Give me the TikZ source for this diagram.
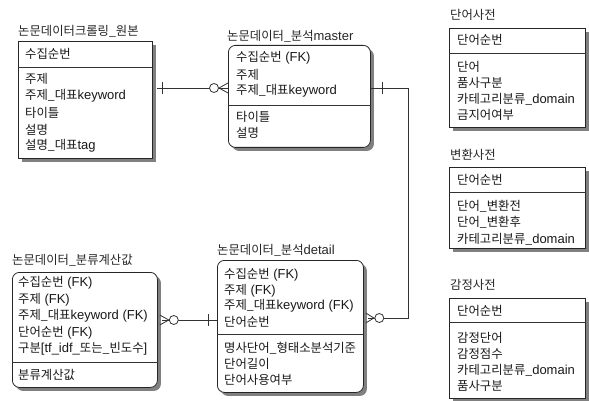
\documentclass[tikz,border=0pt]{standalone}
\usepackage{fontspec}
\setmainfont{Liberation Sans}
\newfontfamily\kr{Noto Sans CJK KR}[Scale=0.95]
\newcommand\K[1]{{\kr #1}}
\usetikzlibrary{shadows}
\tikzset{
  ebox/.style={draw=black!85, line width=0.8pt, fill=white, inner sep=0pt, anchor=north west,
    drop shadow={shadow xshift=3.5pt, shadow yshift=-3.5pt, fill=black!50, opacity=1}},
  rbox/.style={ebox, rounded corners=7pt},
  row/.style={anchor=west, inner sep=0pt, text=black!90},
  ttl/.style={anchor=west, inner sep=0pt, text=black!85},
  conn/.style={draw=black!80, line width=0.8pt},
  circ/.style={conn, fill=white},
}
\begin{document}
\begin{tikzpicture}[x=1pt,y=-1pt, font=\fontsize{13}{14}\selectfont]
\useasboundingbox (0,0) rectangle (589,401);
% ---------- entity boxes ----------
\node[ebox, minimum width=134pt, minimum height=117pt] (orig) at (18,41) {};
\node[rbox, minimum width=142pt, minimum height=102pt] (master) at (228,45) {};
\node[rbox, minimum width=146pt, minimum height=132pt] (detail) at (217,260) {};
\node[rbox, minimum width=145pt, minimum height=115pt] (bunryu) at (12,272) {};
\node[ebox, minimum width=136pt, minimum height=99pt] (dict1) at (449,28) {};
\node[ebox, minimum width=136pt, minimum height=81pt] (dict2) at (449,167) {};
\node[ebox, minimum width=136pt, minimum height=100pt] (dict3) at (449,298) {};
% dividers
\draw[conn] (orig.west |- 0,67) -- (orig.east |- 0,67);
\draw[conn] (master.west |- 0,105) -- (master.east |- 0,105);
\draw[conn] (detail.west |- 0,334) -- (detail.east |- 0,334);
\draw[conn] (bunryu.west |- 0,362) -- (bunryu.east |- 0,362);
\draw[conn] (dict1.west |- 0,53) -- (dict1.east |- 0,53);
\draw[conn] (dict2.west |- 0,192) -- (dict2.east |- 0,192);
\draw[conn] (dict3.west |- 0,322) -- (dict3.east |- 0,322);
% ---------- titles ----------
\node[ttl] (t-orig) at (18,31) {\K{논문데이터크롤링\_원본}};
\node[ttl] (t-master) at (227,36) {\K{논문데이터\_분석}master};
\node[ttl] (t-detail) at (217,250) {\K{논문데이터\_분석}detail};
\node[ttl] (t-bunryu) at (12,260) {\K{논문데이터\_분류계산값}};
\node[ttl] (t-dict1) at (450,15) {\K{단어사전}};
\node[ttl] (t-dict2) at (450,155) {\K{변환사전}};
\node[ttl] (t-dict3) at (450,285) {\K{감정사전}};
% ---------- rows: original ----------
\node[row] (o1) at (25,54) {\K{수집순번}};
\node[row] (o2) at (25,79) {\K{주제}};
\node[row] (o3) at (25,96) {\K{주제\_대표}keyword};
\node[row] (o4) at (25,113) {\K{타이틀}};
\node[row] (o5) at (25,129.5) {\K{설명}};
\node[row] (o6) at (25,146) {\K{설명\_대표}tag};
% ---------- rows: master ----------
\node[row] (m1) at (236,58) {\K{수집순번} (FK)};
\node[row] (m2) at (236,74.5) {\K{주제}};
\node[row] (m3) at (236,91) {\K{주제\_대표}keyword};
\node[row] (m4) at (236,117) {\K{타이틀}};
\node[row] (m5) at (236,133) {\K{설명}};
% ---------- rows: detail ----------
\node[row] (d1) at (224,275) {\K{수집순번} (FK)};
\node[row] (d2) at (224,290.5) {\K{주제} (FK)};
\node[row] (d3) at (224,306) {\K{주제\_대표}keyword (FK)};
\node[row] (d4) at (224,322) {\K{단어순번}};
\node[row] (d5) at (224,348) {\K{명사단어\_형태소분석기준}};
\node[row] (d6) at (224,364) {\K{단어길이}};
\node[row] (d7) at (224,380) {\K{단어사용여부}};
% ---------- rows: bunryu ----------
\node[row] (b1) at (18,283) {\K{수집순번} (FK)};
\node[row] (b2) at (18,300) {\K{주제} (FK)};
\node[row] (b3) at (18,316) {\K{주제\_대표}keyword (FK)};
\node[row] (b4) at (18,333) {\K{단어순번} (FK)};
\node[row] (b5) at (18,349) {\K{구분}[tf\_idf\_\K{또는\_빈도수}]};
\node[row] (b6) at (18,375) {\K{분류계산값}};
% ---------- rows: dictionaries ----------
\node[row] (w1) at (457,40) {\K{단어순번}};
\node[row] (w2) at (457,67) {\K{단어}};
\node[row] (w3) at (457,83) {\K{품사구분}};
\node[row] (w4) at (457,99) {\K{카테고리분류\_}domain};
\node[row] (w5) at (457,115) {\K{금지어여부}};
\node[row] (v1) at (457,180) {\K{단어순번}};
\node[row] (v2) at (457,206.5) {\K{단어\_변환전}};
\node[row] (v3) at (457,222) {\K{단어\_변환후}};
\node[row] (v4) at (457,239) {\K{카테고리분류\_}domain};
\node[row] (e1) at (457,311) {\K{단어순번}};
\node[row] (e2) at (457,338) {\K{감정단어}};
\node[row] (e3) at (457,354) {\K{감정점수}};
\node[row] (e4) at (457,370) {\K{카테고리분류\_}domain};
\node[row] (e5) at (457,386) {\K{품사구분}};
% ---------- connector: original -> master ----------
\coordinate (c1a) at (orig.east |- 0,88);
\coordinate (c1b) at (master.west |- 0,88);
\draw[conn] ([xshift=4pt]c1a) -- (c1b);
\draw[conn] ([xshift=10pt]c1a) +(0,-6) -- +(0,6);
\draw[conn] ([yshift=5pt]c1b) -- ([xshift=-9pt]c1b) -- ([yshift=-5pt]c1b);
\draw[circ] ([xshift=-14pt]c1b) circle (4.5pt);
% ---------- connector: master -> detail ----------
\coordinate (c2a) at (master.east |- 0,88);
\coordinate (c2b) at (detail.east |- 0,318);
\draw[conn] (c2a) -- ++(38,0) |- ([xshift=4pt]c2b);
\draw[conn] ([xshift=12pt]c2a) +(0,-6) -- +(0,6);
\draw[conn] ([xshift=2pt,yshift=5pt]c2b) -- ([xshift=10pt]c2b) -- ([xshift=2pt,yshift=-5pt]c2b);
\draw[circ] ([xshift=15.5pt]c2b) circle (4.5pt);
% ---------- connector: detail -> bunryu ----------
\coordinate (c3a) at (bunryu.east |- 0,320);
\coordinate (c3b) at (detail.west |- 0,320);
\draw[conn] ([xshift=4pt]c3a) -- (c3b);
\draw[conn] ([xshift=-9pt]c3b) +(0,-6) -- +(0,6);
\draw[conn] ([xshift=2pt,yshift=5pt]c3a) -- ([xshift=11pt]c3a) -- ([xshift=2pt,yshift=-5pt]c3a);
\draw[circ] ([xshift=16pt]c3a) circle (4.5pt);
\end{tikzpicture}
\end{document}
